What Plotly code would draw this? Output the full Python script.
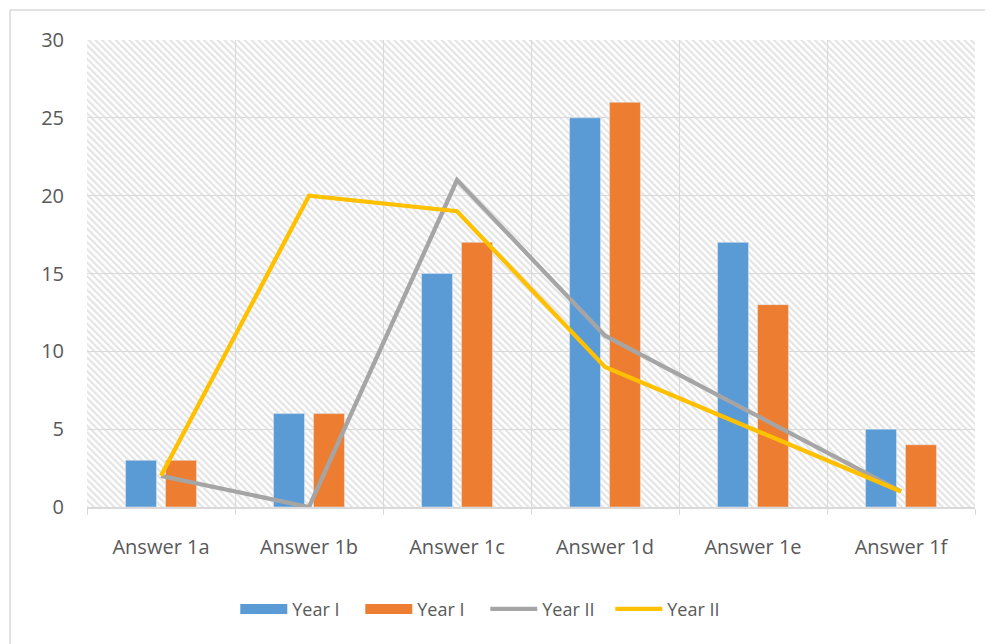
import base64
import plotly.graph_objects as go

categories = ["Answer 1a", "Answer 1b", "Answer 1c", "Answer 1d", "Answer 1e", "Answer 1f"]
year1_blue = [3, 6, 15, 25, 17, 5]
year1_orange = [3, 6, 17, 26, 13, 4]
year2_gray = [2, 0, 21, 11, 6, 1]
year2_yellow = [2, 20, 19, 9, 5, 1]
series_names = ["Year I", "Year I", "Year II", "Year II"]
y_ticks = [0, 5, 10, 15, 20, 25, 30]

BLUE = "#5B9BD5"
ORANGE = "#ED7D31"
GRAY = "#A5A5A5"
YELLOW = "#FFC000"
TXT = "#595959"
GRID = "#D9D9D9"
FONT = "Open Sans"

# the page body adds an 8px offset, so the figure is 8px smaller than the window
OFF = 8
W, H = 993 - OFF, 644 - OFF
ML, MR, MT, MB = 87 - OFF, 18, 40 - OFF, 137
PW, PH = W - ML - MR, H - MT - MB

# diagonal hatch background for plot area
svg = (
    f"<svg xmlns='http://www.w3.org/2000/svg' width='{PW}' height='{PH}'>"
    "<defs><pattern id='p' width='4.8' height='4.8' patternUnits='userSpaceOnUse' "
    "patternTransform='rotate(-45)'><rect x='0' y='0' width='2.2' height='4.8' fill='#E4E4E4'/></pattern></defs>"
    f"<rect width='{PW}' height='{PH}' fill='white'/>"
    f"<rect width='{PW}' height='{PH}' fill='url(#p)'/></svg>"
)
src = "data:image/svg+xml;base64," + base64.b64encode(svg.encode()).decode()

fig = go.Figure()
fig.add_trace(go.Bar(x=categories, y=year1_blue, name=series_names[0], marker_color=BLUE,
                     showlegend=False, legendgroup="b"))
fig.add_trace(go.Bar(x=categories, y=year1_orange, name=series_names[1], marker_color=ORANGE,
                     showlegend=False, legendgroup="o"))
# legend proxies (wide rectangles like the original legend)
fig.add_trace(go.Scatter(x=[None], y=[None], mode="lines", name=series_names[0],
                         line=dict(color=BLUE, width=13), legendgroup="b"))
fig.add_trace(go.Scatter(x=[None], y=[None], mode="lines", name=series_names[1],
                         line=dict(color=ORANGE, width=13), legendgroup="o"))
fig.add_trace(go.Scatter(x=categories, y=year2_gray, name=series_names[2], mode="lines",
                         line=dict(color=GRAY, width=4.3)))
fig.add_trace(go.Scatter(x=categories, y=year2_yellow, name=series_names[3], mode="lines",
                         line=dict(color=YELLOW, width=4.3)))

fig.update_layout(
    width=W, height=H,
    margin=dict(l=ML, r=MR, t=MT, b=MB),
    paper_bgcolor="white",
    plot_bgcolor="rgba(0,0,0,0)",
    barmode="group", bargap=0.46, bargroupgap=0.225,
    font=dict(family=FONT, size=20, color=TXT),
    showlegend=True,
    legend=dict(orientation="h", x=0.167, xanchor="left", y=-0.219, yanchor="middle",
                font=dict(size=18, color=TXT), itemwidth=47, traceorder="normal",
                entrywidth=63, bgcolor="rgba(0,0,0,0)"),
    images=[dict(source=src, xref="paper", yref="paper", x=0, y=1, sizex=1, sizey=1,
                 xanchor="left", yanchor="top", sizing="stretch", layer="below")],
    shapes=[dict(type="rect", xref="paper", yref="paper",
                 x0=(10 - OFF - ML) / PW, x1=(1010 - ML) / PW,
                 y0=-(H + 20 - MT - PH) / PH, y1=1 + (MT - (10 - OFF)) / PH,
                 line=dict(color=GRID, width=1.5), fillcolor="rgba(0,0,0,0)", layer="below")],
)
fig.update_xaxes(type="category", tickson="boundaries", showgrid=True, gridcolor=GRID, gridwidth=1.3,
                 ticks="outside", ticklen=6, tickcolor=GRID, tickwidth=1.3,
                 showline=True, linecolor=GRID, linewidth=1.5,
                 tickfont=dict(size=20, color=TXT), ticklabelstandoff=21)
fig.update_yaxes(range=[0, 30], tickvals=y_ticks, showgrid=True, gridcolor=GRID, gridwidth=1.3,
                 zeroline=False, showline=False, ticks="",
                 tickfont=dict(size=20, color=TXT), ticklabelstandoff=22)

fig.write_html("out.html")
